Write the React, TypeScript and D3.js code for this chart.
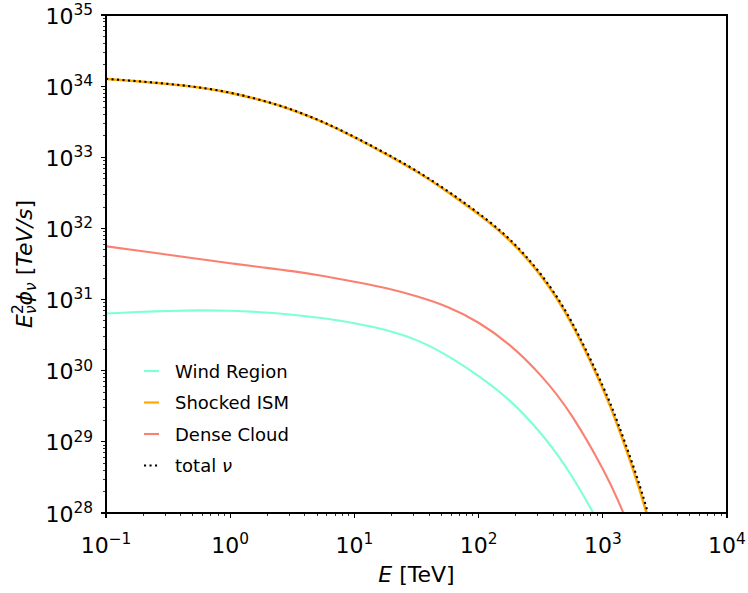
import React from "react";
import * as d3 from "d3";

// Neutrino energy grid [TeV]
const energy = [
  0.1, 0.178, 0.316, 0.562, 1, 1.78, 3.16, 5.62, 10, 17.8, 31.6, 56.2, 100, 178, 316,
  562, 1000, 1330, 1780, 2370, 3160,
];

// E^2 phi for each emission zone [TeV/s]
const windRegion = [
  6.38e30, 6.68e30, 6.92e30, 7.04e30, 6.96e30, 6.65e30, 6.13e30, 5.46e30, 4.65e30, 3.74e30,
  2.69e30, 1.62e30, 8.41e29, 3.8e29, 1.32e29, 3.31e28, 5.62e27, 2.0e27, 6.3e26, 1.6e26,
  3.2e25,
];
const shockedISM = [
  1.26e34, 1.17e34, 1.07e34, 9.55e33, 8.04e33, 6.31e33, 4.62e33, 3.09e33, 1.91e33, 1.12e33,
  6.31e32, 3.27e32, 1.58e32, 6.76e31, 2.19e31, 4.57e30, 5.62e29, 1.62e29, 3.8e28, 7.24e27,
  1.0e27,
];
const denseCloud = [
  5.62e31, 4.9e31, 4.27e31, 3.72e31, 3.24e31, 2.85e31, 2.51e31, 2.14e31, 1.78e31, 1.45e31,
  1.11e31, 7.85e30, 4.72e30, 2.29e30, 8.61e29, 2.34e29, 4.17e28, 1.48e28, 4.37e27, 1.12e27,
  2.51e26,
];
// total neutrino flux is the sum of the three zones
const totalNu = energy.map((_, i) => windRegion[i] + shockedISM[i] + denseCloud[i]);

const xTickExps = ["\u22121", "0", "1", "2", "3", "4"];
const xTickValues = [1e-1, 1e0, 1e1, 1e2, 1e3, 1e4];
const yTickExps = ["28", "29", "30", "31", "32", "33", "34", "35"];
const yTickValues = [1e28, 1e29, 1e30, 1e31, 1e32, 1e33, 1e34, 1e35];

const legendItems = [
  { label: "Wind Region", color: "#7fffd4", dotted: false },
  { label: "Shocked ISM", color: "#ffa500", dotted: false },
  { label: "Dense Cloud", color: "#fa8072", dotted: false },
  { label: "total", color: "#000000", dotted: true },
];

const W = 748;
const H = 593;
const L = 106;
const R = 727;
const T = 15;
const B = 513;
const FONT = "'DejaVu Sans', sans-serif";

export default function App() {
  const x = d3.scaleLog().domain([1e-1, 1e4]).range([L, R]);
  const y = d3.scaleLog().domain([1e28, 1e35]).range([B, T]);

  const line = (vals: number[]) =>
    d3
      .line<number>()
      .x((_, i) => x(energy[i]))
      .y((v) => y(v))
      .curve(d3.curveNatural)(vals) as string;

  const minor = (lo: number, hi: number) => {
    const out: number[] = [];
    for (let e = lo; e < hi; e++) for (let k = 2; k <= 9; k++) out.push(k * Math.pow(10, e));
    return out;
  };
  const xMinor = minor(-1, 4);
  const yMinor = minor(28, 35);

  return (
    <svg
      width={W}
      height={H}
      style={{ position: "absolute", left: 0, top: 0, background: "#fff" }}
      fontFamily={FONT}
    >
      <defs>
        <clipPath id="plotArea">
          <rect x={L} y={T} width={R - L} height={B - T} />
        </clipPath>
      </defs>
      <rect x={0} y={0} width={W} height={H} fill="#fff" />

      <g clipPath="url(#plotArea)" fill="none">
        <path d={line(windRegion)} stroke="#7fffd4" strokeWidth={2.1} />
        <path d={line(shockedISM)} stroke="#ffa500" strokeWidth={2.6} />
        <path d={line(denseCloud)} stroke="#fa8072" strokeWidth={2.1} />
        <path d={line(totalNu)} stroke="#000" strokeWidth={2.1} strokeDasharray="2.1,3.4" />
      </g>

      {/* frame */}
      <rect
        x={L}
        y={T}
        width={R - L}
        height={B - T}
        fill="none"
        stroke="#000"
        strokeWidth={1.1}
        shapeRendering="crispEdges"
      />

      {/* ticks */}
      <g stroke="#000" strokeWidth={1.1} shapeRendering="crispEdges">
        {xTickValues.map((v) => (
          <line key={"xM" + v} x1={x(v)} x2={x(v)} y1={B} y2={B + 5} />
        ))}
        {xMinor.map((v) => (
          <line key={"xm" + v} x1={x(v)} x2={x(v)} y1={B} y2={B + 3} strokeWidth={0.8} />
        ))}
        {yTickValues.map((v) => (
          <line key={"yM" + v} x1={L - 5} x2={L} y1={y(v)} y2={y(v)} />
        ))}
        {yMinor.map((v) => (
          <line key={"ym" + v} x1={L - 3} x2={L} y1={y(v)} y2={y(v)} strokeWidth={0.8} />
        ))}
      </g>

      {/* x tick labels */}
      {xTickValues.map((v, i) => (
        <text key={"xl" + v} x={x(v)} y={553} fontSize={22} textAnchor="middle" fill="#000">
          10
          <tspan fontSize={15.4} dy={-8.6}>
            {xTickExps[i]}
          </tspan>
        </text>
      ))}

      {/* y tick labels */}
      {yTickValues.map((v, i) => (
        <text key={"yl" + v} x={93} y={y(v) + 8.5} fontSize={22} textAnchor="end" fill="#000">
          10
          <tspan fontSize={15.4} dy={-8.6}>
            {yTickExps[i]}
          </tspan>
        </text>
      ))}

      {/* axis labels */}
      <text x={(L + R) / 2} y={582} fontSize={22} textAnchor="middle" fill="#000">
        <tspan fontStyle="italic">E</tspan>
        <tspan> [TeV]</tspan>
      </text>
      <text
        transform={`translate(32,${(T + B) / 2}) rotate(-90)`}
        fontSize={22}
        textAnchor="middle"
        fill="#000"
      >
        <tspan fontStyle="italic">E</tspan>
        <tspan fontSize={15.4} dy={-8.6}>
          2
        </tspan>
        <tspan fontSize={15.4} fontStyle="italic" dx={-9.8} dy={13}>
          ν
        </tspan>
        <tspan fontStyle="italic" dy={-4.4}>
          ϕ
        </tspan>
        <tspan fontSize={15.4} fontStyle="italic" dy={4.4}>
          ν
        </tspan>
        <tspan dy={-4.4}> [</tspan>
        <tspan fontStyle="italic">TeV/s</tspan>
        <tspan>]</tspan>
      </text>

      {/* legend */}
      {legendItems.map((it, i) => {
        const cy = 371 + i * 31.5;
        return (
          <g key={it.label}>
            <line
              x1={144}
              x2={159}
              y1={cy}
              y2={cy}
              stroke={it.color}
              strokeWidth={2.1}
              strokeDasharray={it.dotted ? "2.1,3.4" : undefined}
            />
            <text x={175} y={cy + 6.5} fontSize={18} fill="#000">
              {it.label}
              {it.dotted ? <tspan fontStyle="italic"> ν</tspan> : null}
            </text>
          </g>
        );
      })}
    </svg>
  );
}
